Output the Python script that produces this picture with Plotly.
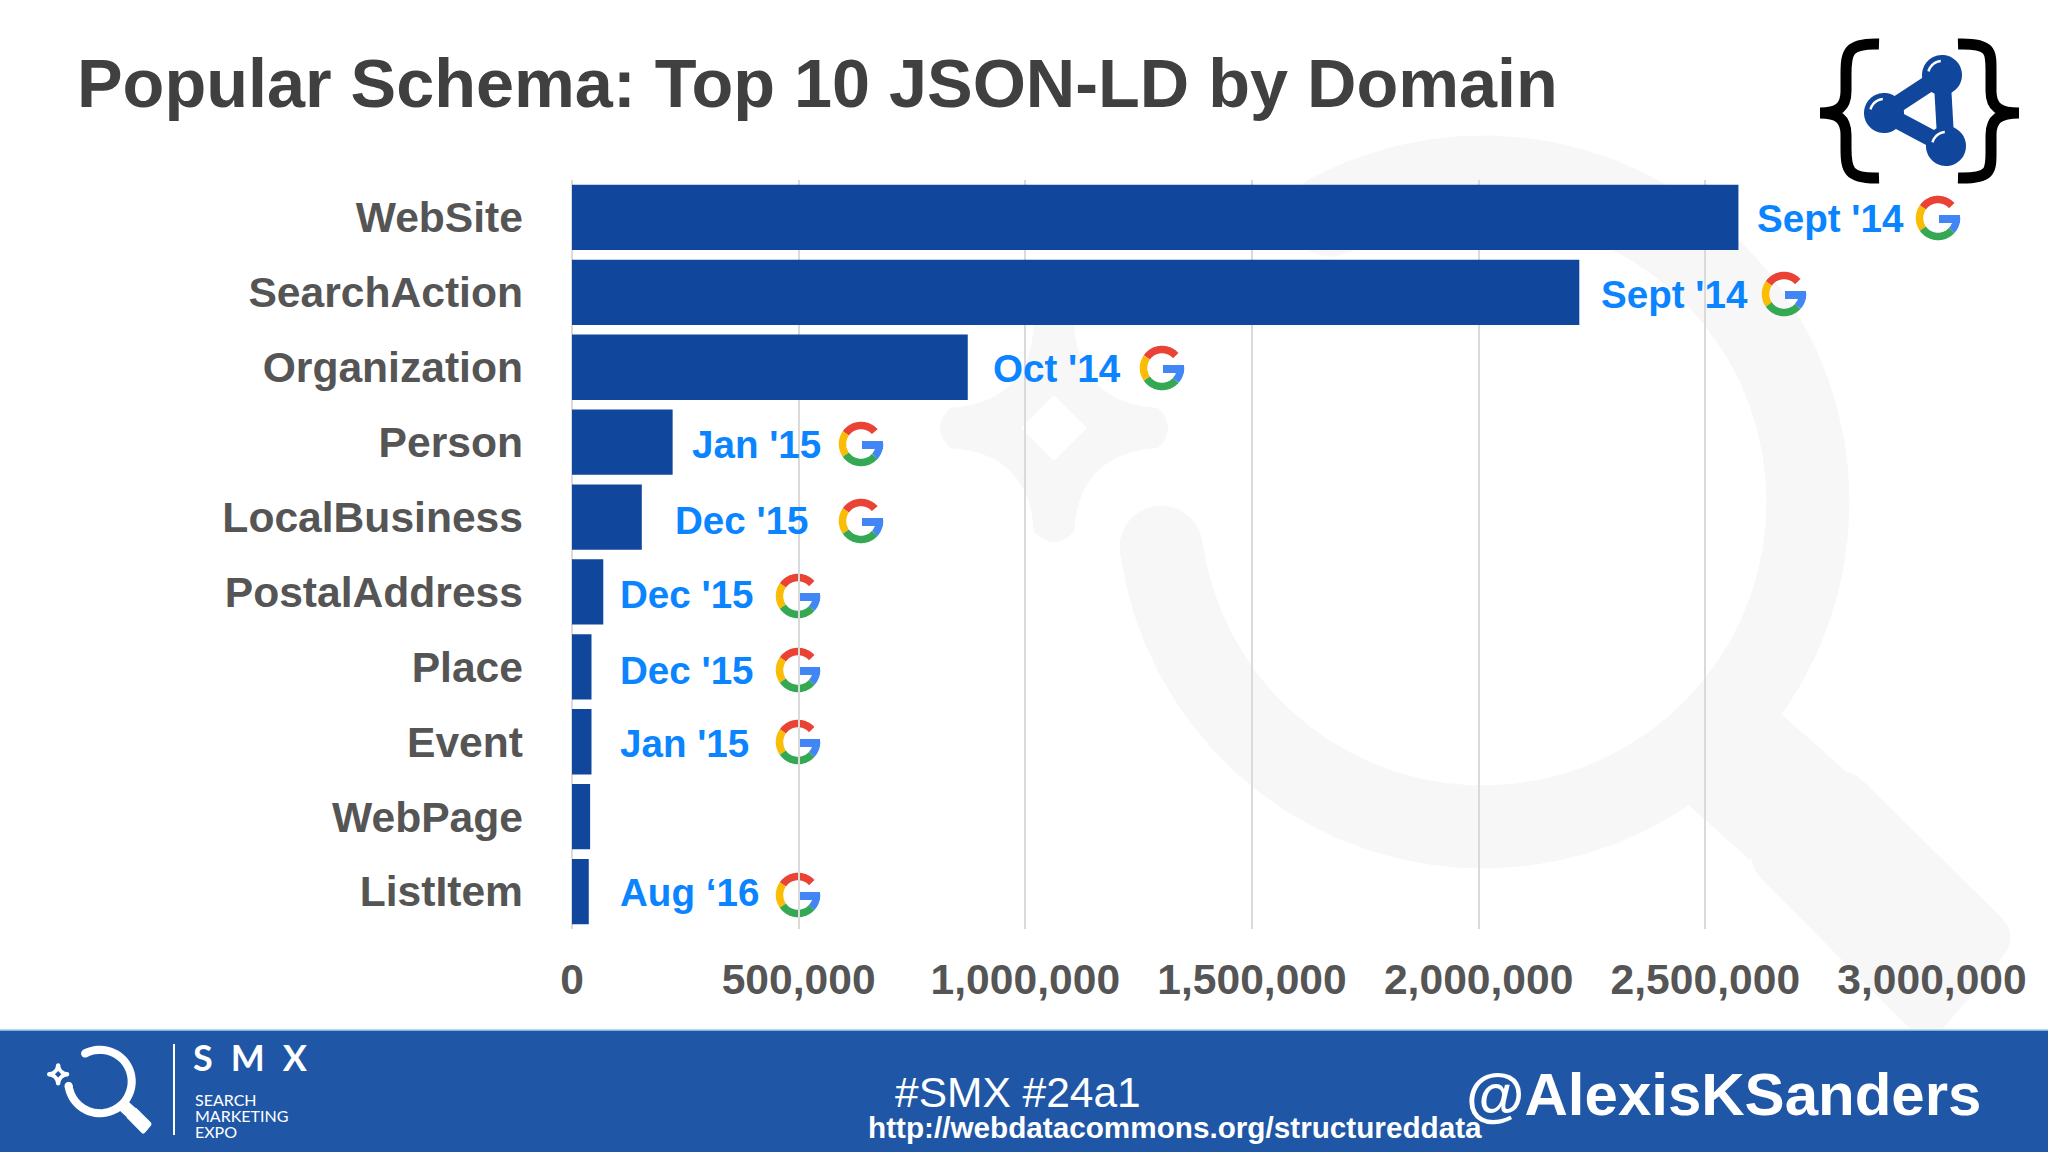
import numpy as np
import plotly.graph_objects as go

W, H = 2048, 1152

# values
categories = ["WebSite", "SearchAction", "Organization", "Person", "LocalBusiness",
              "PostalAddress", "Place", "Event", "WebPage", "ListItem"]
domains = [2573000, 2222000, 873000, 222000, 154000, 69000, 43000, 43000, 40000, 37000]
dates = ["Sept '14", "Sept '14", "Oct '14", "Jan '15", "Dec '15",
         "Dec '15", "Dec '15", "Jan '15", "", "Aug ‘16"]
x_ticks = [0, 500000, 1000000, 1500000, 2000000, 2500000, 3000000]

# hand placed on the slide, in pixels
date_x = [1755, 1599, 991, 690, 673, 618, 618, 618, 618, 618]
date_y = [218, 295, 368, 444, 520, 594, 670, 743, 0, 892]
g_x = [1938, 1784, 1162, 861, 861, 798, 798, 798, 0, 798]
g_y = [218, 294, 368, 444, 521, 596, 670, 742, 0, 895]

GREY = "#555555"
BAR = "#10469C"
LABEL = "#0A84FF"
WATER = "#F7F7F8"
FOOT = "#1F57A6"


def fx(x):
    return x / W


def fy(y):
    return 1 - y / H


def pt(x, y):
    return f"{fx(x):.5f} {fy(y):.5f}"


def poly(pts, close=False):
    s = "M " + " L ".join(pt(x, y) for x, y in pts)
    return s + " Z" if close else s


def rounded(pts, r):
    # closed polygon with its corners eased by quadratic curves
    pts = [np.array(p, dtype=float) for p in pts]
    n = len(pts)
    s = ""
    for i, p in enumerate(pts):
        a, b = pts[i - 1], pts[(i + 1) % n]
        p0 = p + (a - p) / np.linalg.norm(a - p) * r
        p1 = p + (b - p) / np.linalg.norm(b - p) * r
        s += ("M " if i == 0 else "L ") + pt(*p0) + " Q " + pt(*p) + " " + pt(*p1) + " "
    return s + "Z"


def arc_pts(cx, cy, r, a0, a1):
    a = np.radians(np.linspace(a0, a1, 60))
    return list(zip(cx + r * np.cos(a), cy - r * np.sin(a)))


def line_shape(path, color, width):
    return dict(type="path", xref="paper", yref="paper", path=path, layer="below",
                line=dict(color=color, width=width), fillcolor="rgba(0,0,0,0)")


def fill_shape(path, color):
    return dict(type="path", xref="paper", yref="paper", path=path, layer="below",
                line=dict(width=0), fillcolor=color)


def circle(cx, cy, r, color):
    return fill_shape(poly(arc_pts(cx, cy, r, 0, 360), True), color)


def magnifier(cx, cy, s, color):
    # the SMX logo, s = 1 is the big watermark
    r, sw = 325 * s, 83 * s
    out = [line_shape(poly(arc_pts(cx, cy, r, 118, -172)), color, sw)]
    for a in (118, -172):
        ax, ay = arc_pts(cx, cy, r, a, a)[0]
        out.append(circle(ax, ay, sw / 2, color))
    neck = [(296, 210), (367, 273), (267, 358), (200, 298)]
    grip = [(361, 260), (537, 434), (445, 545), (259, 357)]
    out.append(fill_shape(poly([(cx + x * s, cy + y * s) for x, y in neck], True), color))
    out.append(fill_shape(rounded([(cx + x * s, cy + y * s) for x, y in grip], 28 * s), color))
    # sparkle to the upper left, with a diamond hole
    sx, sy = cx - 429 * s, cy - 74 * s
    t, c, h = 104 * s, 20 * s, 33 * s
    p = ""
    sides = [(1, 0), (0, 1), (-1, 0), (0, -1)]
    for i, (dx, dy) in enumerate(sides):
        nx, ny = sides[(i + 1) % 4]
        a = (sx + dx * t + dy * c, sy + dy * t - dx * c)
        b = (sx + dx * (t + c), sy + dy * (t + c))
        e = (sx + dx * t - dy * c, sy + dy * t + dx * c)
        nxt = (sx + nx * t + ny * c, sy + ny * t - nx * c)
        ctrl = (sx + ((e[0] + nxt[0]) / 2 - sx) * 0.4, sy + ((e[1] + nxt[1]) / 2 - sy) * 0.4)
        p += ("M " if i == 0 else "L ") + pt(*a) + " Q " + pt(*b) + " " + pt(*e) + " Q " + pt(*ctrl) + " " + pt(*nxt) + " "
    p += "Z M " + " L ".join(pt(*d) for d in [(sx, sy - h), (sx - h, sy), (sx, sy + h), (sx + h, sy)]) + " Z"
    out.append(fill_shape(p, color))
    return out


def google_g(cx, cy):
    r, sw = 18.5, 7.5
    out = [
        line_shape(poly(arc_pts(cx, cy, r, 42, 145)), "#EA4335", sw),
        line_shape(poly(arc_pts(cx, cy, r, 145, 215)), "#FBBC05", sw),
        line_shape(poly(arc_pts(cx, cy, r, 215, 318)), "#34A853", sw),
        line_shape(poly(arc_pts(cx, cy, r, 318, 362)), "#4285F4", sw),
        fill_shape(poly([(cx + 1, cy - 3), (cx + 22, cy - 3), (cx + 22, cy + 5), (cx + 1, cy + 5)], True), "#4285F4"),
    ]
    return out


def brace(x0, xm, xt, y0, ym, y1):
    return (f"M {pt(x0, y0)} C {pt(xm + 2, y0 - 1)} {pt(xm, y0 + 8)} {pt(xm, y0 + 30)} "
            f"L {pt(xm, ym - 22)} C {pt(xm, ym - 6)} {pt(xm - (xm - xt) * 0.3, ym)} {pt(xt, ym)} "
            f"C {pt(xm - (xm - xt) * 0.3, ym)} {pt(xm, ym + 6)} {pt(xm, ym + 22)} "
            f"L {pt(xm, y1 - 30)} C {pt(xm, y1 - 8)} {pt(xm + 2, y1 + 1)} {pt(x0, y1)}")


shapes = []

# watermark
shapes += magnifier(1483, 502, 1, WATER)

# json-ld logo
for ax, ay, bx, by in [(1884, 113, 1942, 75), (1942, 75, 1946, 146), (1946, 146, 1884, 113)]:
    shapes.append(line_shape(poly([(ax, ay), (bx, by)]), BAR, 17))
for nx, ny in [(1942, 75), (1884, 113), (1946, 146)]:
    shapes.append(circle(nx, ny, 20, BAR))
    shapes.append(line_shape(poly(arc_pts(nx, ny, 14, 95, 165)), "white", 2.5))
shapes.append(line_shape(brace(1879, 1846, 1820, 44, 113, 178), "black", 11))
shapes.append(line_shape(brace(1958, 1991, 2019, 44, 113, 178), "black", 11))

# google logos
for gx, gy, d in zip(g_x, g_y, dates):
    if d:
        shapes += google_g(gx, gy)

fig = go.Figure(go.Bar(y=categories, x=domains, orientation="h", marker_color=BAR, marker_line_width=0))

annotations = []
for d, ax, ay in zip(dates, date_x, date_y):
    if d:
        annotations.append(dict(text=d, xref="paper", yref="paper", x=fx(ax), y=fy(ay), xanchor="left",
                                yanchor="middle", showarrow=False,
                                font=dict(size=38.6, color=LABEL, family="Liberation Sans", weight="bold")))

# footer, above the plot so the watermark handle is cut off
footer = [
    dict(type="rect", xref="paper", yref="paper", x0=0, x1=1, y0=0, y1=fy(1030), layer="above",
         line_width=0, fillcolor=FOOT),
    dict(type="line", xref="paper", yref="paper", x0=0, x1=1, y0=fy(1030), y1=fy(1030), layer="above",
         line=dict(color="#A9CBEA", width=1.5)),
    dict(type="line", xref="paper", yref="paper", x0=fx(174), x1=fx(174), y0=fy(1044), y1=fy(1135), layer="above",
         line=dict(color="white", width=2)),
]
logo = magnifier(100, 1081.5, 36 / 369, "white")
for s in logo:
    s["layer"] = "above"

for text, ax, ay, size, weight, family in [
    ("S\u2002M\u2002X", 191, 1057, 36, "bold", "Lato"),
    ("SEARCH", 193, 1099, 16, "normal", "Lato"),
    ("MARKETING", 193, 1115, 16, "normal", "Lato"),
    ("EXPO", 193, 1131, 16, "normal", "Lato"),
    ("#SMX #24a1", 893, 1092, 42.5, "normal", "Liberation Sans"),
    ("http://webdatacommons.org/structureddata", 866, 1127, 29.7, "bold", "Liberation Sans"),
    ("@AlexisKSanders", 1464, 1094, 60, "bold", "Liberation Sans"),
]:
    annotations.append(dict(text=text, xref="paper", yref="paper", x=fx(ax), y=fy(ay), xanchor="left",
                            yanchor="middle", showarrow=False,
                            font=dict(size=size, color="white", family=family, weight=weight)))

fig.update_layout(
    width=W, height=H,
    margin=dict(l=0, r=0, t=0, b=0),
    paper_bgcolor="white", plot_bgcolor="rgba(0,0,0,0)",
    showlegend=False, bargap=0.128,
    font=dict(family="Liberation Sans"),
    title=dict(text="Popular Schema: Top 10 JSON-LD by Domain", xref="paper", yref="paper",
               x=fx(77), y=fy(83), xanchor="left", yanchor="middle",
               font=dict(size=68.4, color="#404040", family="Liberation Sans", weight="bold")),
    shapes=shapes + footer + logo,
    annotations=annotations,
)
fig.update_xaxes(domain=[fx(572), fx(1932)], range=[0, 3000000], tickvals=x_ticks, tickformat=",d",
                 showgrid=True, gridcolor="#DADADA", gridwidth=1.5, zeroline=True, zerolinecolor="#DADADA",
                 zerolinewidth=1.5, showline=False, ticklabelstandoff=21, automargin=False,
                 tickfont=dict(size=42.6, color=GREY, family="Liberation Sans", weight="bold"))
fig.update_yaxes(domain=[fy(929), fy(180)], autorange="reversed", showgrid=False, showline=False,
                 ticklabelstandoff=48, automargin=False,
                 tickfont=dict(size=42.6, color=GREY, family="Liberation Sans", weight="bold"))

fig.write_html("out.html", config=dict(displayModeBar=False), post_script="document.body.style.margin='0';")
